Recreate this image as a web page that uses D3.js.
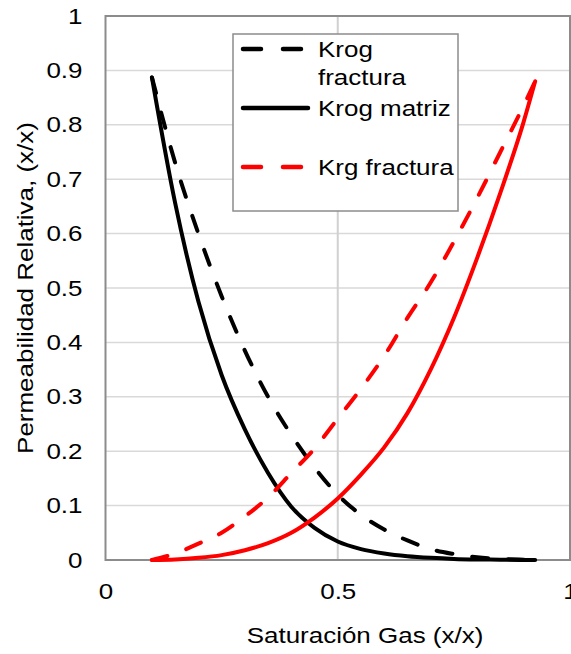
<!DOCTYPE html>
<html>
<head>
<meta charset="utf-8">
<script src="https://cdn.jsdelivr.net/npm/d3@7"></script>
<style>
  body { margin: 0; background: #fff; }
  text { font-family: "Liberation Sans", Arial, sans-serif; fill: #000; }
</style>
</head>
<body>
<script>
// saturacion de gas (x/x)
var sg = [0.1, 0.15, 0.2, 0.25, 0.3, 0.35, 0.4, 0.45, 0.5, 0.55, 0.6, 0.65, 0.7, 0.75, 0.8, 0.85, 0.9, 0.925];

var krogFractura = [0.887, 0.73, 0.60, 0.485, 0.385, 0.30, 0.23, 0.17, 0.12, 0.083, 0.056, 0.036, 0.02, 0.011, 0.005, 0.002, 0.0005, 0];
var krogMatriz   = [0.887, 0.656, 0.475, 0.34, 0.24, 0.16, 0.098, 0.059, 0.034, 0.02, 0.012, 0.007, 0.004, 0.002, 0.001, 0.0005, 0, 0];
var krgFractura  = [0, 0.012, 0.03, 0.05, 0.08, 0.115, 0.16, 0.205, 0.26, 0.315, 0.375, 0.445, 0.51, 0.585, 0.665, 0.75, 0.835, 0.88];
var krgMatriz    = [0, 0.001, 0.004, 0.009, 0.018, 0.031, 0.05, 0.078, 0.113, 0.157, 0.207, 0.27, 0.35, 0.445, 0.555, 0.675, 0.805, 0.88];

var xTicks = [0, 0.5, 1];
var yTicks = [0, 0.1, 0.2, 0.3, 0.4, 0.5, 0.6, 0.7, 0.8, 0.9, 1];

var series = [
  { name: "Krog fractura", values: krogFractura, color: "#000000", dash: "16,20", legend: ["Krog", "fractura"] },
  { name: "Krog matriz", values: krogMatriz, color: "#000000", dash: null, legend: ["Krog matriz"] },
  { name: "Krg fractura", values: krgFractura, color: "#ff0000", dash: "16,20", legend: ["Krg fractura"] },
  { name: "Krg matriz", values: krgMatriz, color: "#ff0000", dash: null, legend: null }
];

var W = 571, H = 654;
var pLeft = 105.5, pRight = 570, pTop = 16, pBottom = 560;
var FS = "22px", STRETCH = 1.18;

var svg = d3.select("body").append("svg")
    .attr("width", W)
    .attr("height", H);

var x = d3.scaleLinear().domain([0, 1]).range([pLeft, pRight]);
var y = d3.scaleLinear().domain([0, 1]).range([pBottom, pTop]);

// widen glyphs a bit, the original picture is stretched sideways
function stretch(sel) {
  sel.each(function(){
    var len = this.getComputedTextLength();
    d3.select(this).attr("textLength", len * STRETCH).attr("lengthAdjust", "spacingAndGlyphs");
  });
}

// grid
svg.append("g").selectAll("line.hgrid")
  .data(yTicks.slice(1, -1))
  .enter().append("line")
    .attr("class", "hgrid")
    .attr("x1", pLeft).attr("x2", pRight)
    .attr("y1", function(d){ return y(d); })
    .attr("y2", function(d){ return y(d); })
    .attr("stroke", "#d9d9d9")
    .attr("stroke-width", 1.5);

svg.append("g").selectAll("line.vgrid")
  .data([0.5])
  .enter().append("line")
    .attr("class", "vgrid")
    .attr("x1", function(d){ return x(d); })
    .attr("x2", function(d){ return x(d); })
    .attr("y1", pTop).attr("y2", pBottom)
    .attr("stroke", "#d0d0d0")
    .attr("stroke-width", 2);

// plot border
svg.append("rect")
    .attr("x", pLeft).attr("y", pTop)
    .attr("width", pRight - pLeft).attr("height", pBottom - pTop)
    .attr("fill", "none")
    .attr("stroke", "#8c8c8c")
    .attr("stroke-width", 2);

// axes labels
var yAxis = d3.axisLeft(y).tickValues(yTicks).tickSize(0).tickPadding(23)
    .tickFormat(function(d){ return d === 0 || d === 1 ? d3.format("d")(d) : d3.format(".1f")(d); });
var gy = svg.append("g").attr("transform", "translate(" + pLeft + ",0)").call(yAxis);
gy.select(".domain").remove();
gy.attr("font-family", null).attr("font-size", null);
gy.selectAll("text").style("font-size", FS).call(stretch);

var xAxis = d3.axisBottom(x).tickValues(xTicks).tickSize(0).tickPadding(23)
    .tickFormat(function(d){ return d === 0.5 ? "0.5" : String(d); });
var gx = svg.append("g").attr("transform", "translate(0," + pBottom + ")").call(xAxis);
gx.select(".domain").remove();
gx.attr("font-family", null).attr("font-size", null);
gx.selectAll("text").style("font-size", FS).call(stretch);

// lines
var line = d3.line()
    .x(function(d){ return x(d[0]); })
    .y(function(d){ return y(d[1]); })
    .curve(d3.curveMonotoneX);

svg.append("g").selectAll("path.serie")
  .data(series)
  .enter().append("path")
    .attr("class", "serie")
    .attr("d", function(s){ return line(sg.map(function(v, i){ return [v, s.values[i]]; })); })
    .attr("fill", "none")
    .attr("stroke", function(s){ return s.color; })
    .attr("stroke-width", 4)
    .attr("stroke-linecap", "round")
    .attr("stroke-linejoin", "round")
    .attr("stroke-dasharray", function(s){ return s.dash; });

// legend
var lg = svg.append("g");
lg.append("rect")
    .attr("x", 233).attr("y", 34)
    .attr("width", 225).attr("height", 177)
    .attr("fill", "#fff")
    .attr("stroke", "#8c8c8c")
    .attr("stroke-width", 1.5);

var legendRows = [49, 108, 167];
var legendItems = series.filter(function(s){ return s.legend; });
legendItems.forEach(function(s, i){
  var yy = legendRows[i];
  lg.append("line")
      .attr("x1", 243).attr("x2", s.dash ? 301 : 308)
      .attr("y1", yy).attr("y2", yy)
      .attr("stroke", s.color)
      .attr("stroke-width", 4.5)
      .attr("stroke-linecap", "round")
      .attr("stroke-dasharray", s.dash ? "18,22" : null);
  s.legend.forEach(function(t, j){
    lg.append("text")
        .attr("x", 318)
        .attr("y", yy + j * 28)
        .attr("dy", "0.35em")
        .style("font-size", FS)
        .text(t)
        .call(stretch);
  });
});

// axis titles
svg.append("text")
    .attr("x", 365).attr("y", 635)
    .attr("dy", "0.35em")
    .attr("text-anchor", "middle")
    .style("font-size", FS)
    .text("Saturación Gas (x/x)")
    .call(stretch);

svg.append("text")
    .attr("transform", "translate(25," + ((pTop + pBottom) / 2) + ") rotate(-90)")
    .attr("dy", "0.35em")
    .attr("text-anchor", "middle")
    .style("font-size", FS)
    .text("Permeabilidad Relativa, (x/x)")
    .call(stretch);
</script>
</body>
</html>
